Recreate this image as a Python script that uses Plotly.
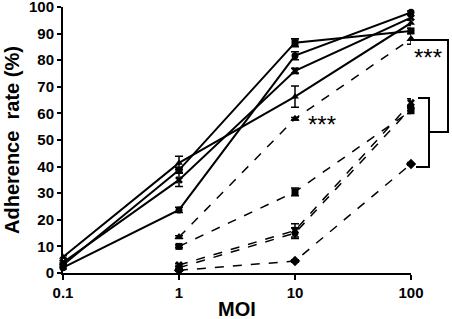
import plotly.graph_objects as go

# x positions (MOI)
moi_solid = [0.1, 1, 10, 100]
moi_dashed = [1, 10, 100]

# Solid series (adherence %)
solid_a = [6, 41.4, 66.3, 94]
solid_a_err = [0.5, 2.5, 4, 1]
solid_b = [3, 38.7, 86.6, 91]
solid_b_err = [0.5, 1, 1.5, 1]
solid_c = [4, 35, 76, 96]
solid_c_err = [0.5, 2.5, 1, 1]
solid_d = [2, 23.7, 81.7, 98]
solid_d_err = [0.5, 1, 1.5, 0.5]

# Dashed series
dash_a = [13.5, 58, 88]
dash_a_err = [0.5, 0.5, 2]
dash_b = [10, 30.5, 61]
dash_b_err = [0.5, 1.5, 1]
dash_c = [3, 16, 64]
dash_c_err = [0.5, 2.5, 1.5]
dash_d = [2, 15, 62]
dash_d_err = [0.5, 2, 1]
dash_e = [1, 4.5, 41]
dash_e_err = [0.3, 0.5, 0.5]

y_ticks = [0, 10, 20, 30, 40, 50, 60, 70, 80, 90, 100]
x_ticks = [0.1, 1, 10, 100]
x_tick_labels = ["0.1", "1", "10", "100"]

FONT = "Liberation Sans"

fig = go.Figure()

def add(xs, ys, err, symbol, dash, width, size=7):
    fig.add_trace(go.Scatter(
        x=xs, y=ys, mode="lines+markers",
        line=dict(color="black", width=width, dash=dash),
        marker=dict(symbol=symbol, color="black", size=size),
        error_y=dict(type="data", array=err, visible=True, color="black",
                     thickness=1.5, width=4),
        showlegend=False, cliponaxis=False))

add(moi_solid, solid_a, solid_a_err, "triangle-up", "solid", 2)
add(moi_solid, solid_b, solid_b_err, "square", "solid", 2)
add(moi_solid, solid_c, solid_c_err, "x", "solid", 2)
add(moi_solid, solid_d, solid_d_err, "circle", "solid", 2)

add(moi_dashed, dash_a, dash_a_err, "triangle-up", "dash", 1.5, size=8)
add(moi_dashed, dash_b, dash_b_err, "square", "dash", 1.5)
add(moi_dashed, dash_c, dash_c_err, "x", "dash", 1.5)
add(moi_dashed, dash_d, dash_d_err, "circle", "dash", 1.5)
add(moi_dashed, dash_e, dash_e_err, "diamond", "dash", 1.5, size=8)

# plot area in pixels: x 63..411, y 7..273
L, R, T, B = 63, 411, 7, 273

def px(pixel):
    return (pixel - L) / (R - L)

def pyp(pixel):
    return (B - pixel) / (B - T)

def py(v):  # value -> paper (y range 0..100)
    return v / 100.0

line_style = dict(color="black", width=2)
# big bracket
fig.add_shape(type="path", xref="paper", yref="paper",
              path=f"M {px(413)} {py(87.6)} L {px(448)} {py(87.6)} L {px(448)} {pyp(132)} L {px(429)} {pyp(132)}",
              line=line_style)
# small bracket
fig.add_shape(type="path", xref="paper", yref="paper",
              path=f"M {px(418)} {pyp(98)} L {px(429)} {pyp(98)} L {px(429)} {pyp(167)} L {px(416)} {pyp(167)}",
              line=line_style)

fig.add_annotation(x=px(428), y=pyp(57), xref="paper", yref="paper",
                   xanchor="center", yanchor="middle",
                   text="***", showarrow=False,
                   font=dict(family=FONT, size=24, color="black"))
fig.add_annotation(x=px(322), y=pyp(124), xref="paper", yref="paper",
                   xanchor="center", yanchor="middle",
                   text="***", showarrow=False,
                   font=dict(family=FONT, size=24, color="black"))

# axis titles
fig.add_annotation(x=px(12), y=pyp(140), xref="paper", yref="paper",
                   xanchor="center", yanchor="middle",
                   text="Adherence  rate (%)", textangle=-90, showarrow=False,
                   font=dict(family=FONT, size=20, color="black", weight="bold"))
fig.add_annotation(x=px(237), y=pyp(309), xref="paper", yref="paper",
                   xanchor="center", yanchor="middle",
                   text="MOI", showarrow=False,
                   font=dict(family=FONT, size=20, color="black", weight="bold"))

tickfont = dict(family=FONT, size=15, color="black", weight="bold")

fig.update_layout(
    width=452, height=319,
    margin=dict(l=L, r=452 - R, t=T, b=319 - B, autoexpand=False),
    paper_bgcolor="white", plot_bgcolor="white",
    font=dict(family=FONT, color="black"),
    xaxis=dict(type="log", range=[-1, 2], tickvals=x_ticks, ticktext=x_tick_labels,
               showline=True, linecolor="black", linewidth=2, showgrid=False,
               zeroline=False, ticks="outside", ticklen=5, tickwidth=2,
               tickcolor="black", tickfont=tickfont, automargin=False,
               ticklabeloverflow="allow"),
    yaxis=dict(range=[0, 100], tickvals=y_ticks,
               showline=True, linecolor="black", linewidth=2, showgrid=False,
               zeroline=False, ticks="outside", ticklen=4, tickwidth=2,
               tickcolor="black", tickfont=tickfont, automargin=False,
               ticklabeloverflow="allow"),
)

fig.write_html("out.html", config={"displayModeBar": False},
               post_script="document.body.style.margin='0';")
